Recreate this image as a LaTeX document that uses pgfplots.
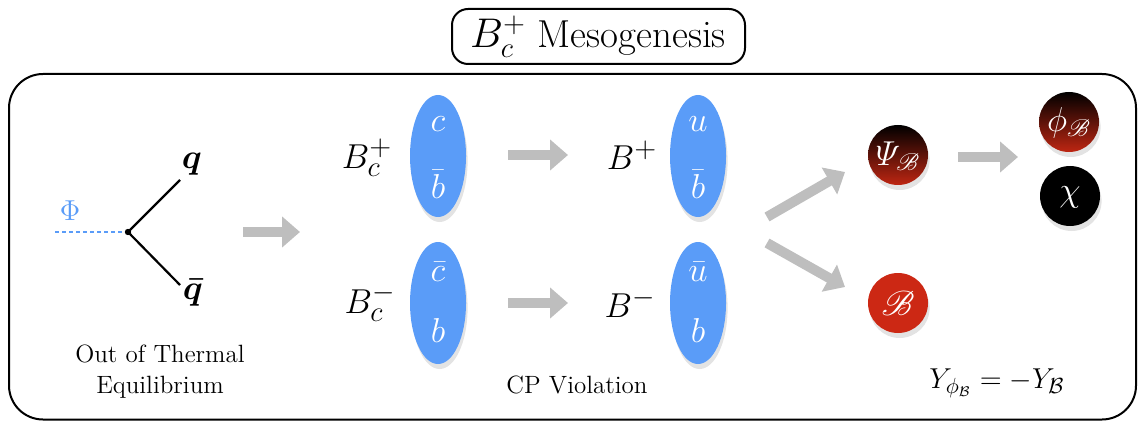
\documentclass[border=0pt]{standalone}
\usepackage{pgfplots}
\pgfplotsset{compat=1.18}
\usepackage{amsmath}
\usepackage{mathrsfs}
\usetikzlibrary{arrows.meta,shadows}
\definecolor{qblue}{RGB}{90,156,248}
\definecolor{agray}{RGB}{190,190,190}
\definecolor{dred}{RGB}{190,38,18}
\definecolor{bred}{RGB}{204,40,20}
\tikzset{
  garrow/.style={line width=5pt,color=agray,-{Triangle[length=9pt,width=15pt]}},
  shad/.style={drop shadow={opacity=0.22,shadow xshift=0.8pt,shadow yshift=-2.5pt,fill=gray}},
}
\begin{document}
\begin{tikzpicture}
\begin{axis}[name=ax,x=0.5pt,y=0.5pt,xmin=0,xmax=1138,ymin=0,ymax=422,y dir=reverse,
  hide axis,clip=false,scale only axis]
% frames
\draw[line width=1pt,rounded corners=17pt] (9,74) rectangle (1136,419.5);
\draw[line width=1pt,rounded corners=8pt,fill=white] (452,9) rectangle (745,64);
\node[font=\fontsize{19.5}{22}\selectfont] at (598,37) {$B_c^+$ Mesogenesis};
% Feynman vertex
\draw[qblue,line width=1pt,dash pattern=on 2pt off 1.5pt] (55,232) -- (128,232);
\node[qblue,font=\fontsize{14}{16}\selectfont] at (70,211) {$\Phi$};
\draw[line width=1.1pt] (180,180) -- (128,232) -- (180,285);
\fill (128,232) circle (1.6pt);
\node[inner sep=0pt,font=\fontsize{16}{18}\selectfont] at (192,164) {$\boldsymbol{q}$};
\node[inner sep=0pt,font=\fontsize{16}{18}\selectfont] at (193,293) {$\boldsymbol{\bar q}$};
\node[align=center,font=\fontsize{12.5}{15.5}\selectfont] at (160,372) {Out of Thermal\\Equilibrium};
% arrows
\draw[garrow] (243,232) -- (300,232);
\draw[garrow] (508,155) -- (568,155);
\draw[garrow] (508,303) -- (568,303);
\draw[garrow] (767,217) -- (845,172);
\draw[garrow] (767,243) -- (845,287);
\draw[garrow] (958,157) -- (1018,157);
% mesons
\node[font=\fontsize{19}{22}\selectfont] at (367,158) {$B_c^+$};
\node[font=\fontsize{19}{22}\selectfont] at (370,303) {$B_c^-$};
\node[font=\fontsize{19}{22}\selectfont] at (632,155) {$B^+$};
\node[font=\fontsize{19}{22}\selectfont] at (630,303) {$B^-$};
\fill[qblue,shad] (438,156) ellipse (14pt and 30.5pt);
\fill[qblue,shad] (438,303) ellipse (14pt and 30.5pt);
\fill[qblue,shad] (698,156) ellipse (14pt and 30.5pt);
\fill[qblue,shad] (698,303) ellipse (14pt and 30.5pt);
\begin{scope}[every node/.style={white,inner sep=0pt,font=\fontsize{18}{19}\selectfont}]
\node at (438,124) {$c$};
\node at (438,184) {$\bar b$};
\node at (438,272) {$\bar c$};
\node at (438,330) {$b$};
\node at (698,124) {$u$};
\node at (698,184) {$\bar b$};
\node at (698,272) {$\bar u$};
\node at (698,330) {$b$};
\end{scope}
\node[font=\fontsize{12.5}{15}\selectfont] at (577,385) {CP Violation};
% dark sector
\shade[top color=black,bottom color=dred,shad] (898,155) circle (15pt);
\shade[top color=black,bottom color=dred,shad] (1069,122) circle (15pt);
\fill[black,shad] (1070,196) circle (15pt);
\fill[bred,shad] (898,303) circle (15pt);
\begin{scope}[every node/.style={white,font=\fontsize{17}{19}\selectfont}]
\node at (898,156) {$\varPsi_{\mathscr{B}}$};
\node at (1069,123) {$\phi_{\mathscr{B}}$};
\node at (1070,197) {$\chi$};
\node[font=\fontsize{19}{21}\selectfont] at (898,303) {$\mathscr{B}$};
\end{scope}
\node[font=\fontsize{15}{18}\selectfont] at (997,383) {$Y_{\phi_{\mathcal{B}}}=-Y_{\mathcal{B}}$};
\end{axis}
\pgfresetboundingbox
\path (ax.south west) rectangle (ax.north east);
\end{tikzpicture}
\end{document}
